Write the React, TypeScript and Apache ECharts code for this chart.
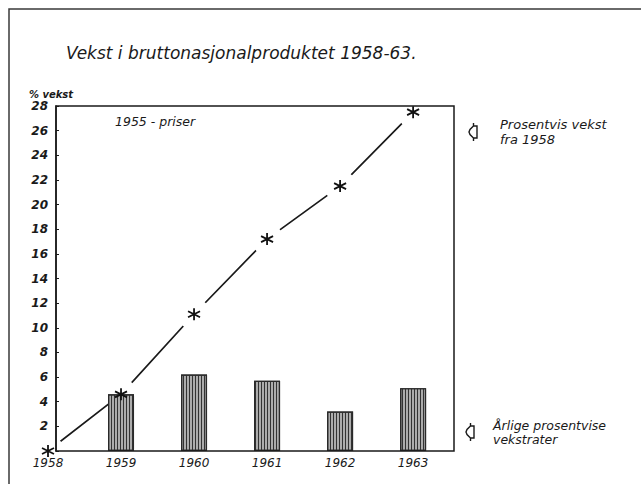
import React, { useEffect, useRef } from "react";
import * as echarts from "echarts";

// ---- data ----
const lineYears = [1958, 1959, 1960, 1961, 1962, 1963];
const cumulativeGrowth = [0, 4.6, 11.1, 17.2, 21.5, 27.5]; // % growth from 1958
const barYears = [1959, 1960, 1961, 1962, 1963];
const annualGrowth = [4.6, 6.2, 5.7, 3.2, 5.1]; // annual growth rates, %
const yMin = 0;
const yMax = 28;
const yStep = 2;

const titleText = "Vekst i bruttonasjonalproduktet 1958-63.";
const lineName = "Prosentvis vekst\nfra 1958";
const barName = "Årlige prosentvise\nvekstrater";
const priceNote = "1955 - priser";
const yName = "% vekst";

const FONT = "DejaVu Sans";
const INK = "#1a1a1a";

let registered = false;
function registerShapes() {
  if (registered) return;
  registered = true;
  echarts.graphic.registerShape(
    "valve",
    echarts.graphic.extendPath(
      "M4.5,0 L4.5,3 L1,6.5 L0,9 L1,11.5 L4.5,15 L4.5,18 L4.5,15 L8,15 L8,3 L4.5,3 Z",
      {}
    )
  );
}

const asterisk = "path://M5,0L5,10M0.67,2.5L9.33,7.5M0.67,7.5L9.33,2.5";

export default function App() {
  const ref = useRef<HTMLDivElement>(null);
  useEffect(() => {
    if (!ref.current) return;
    registerShapes();
    const chart = echarts.init(ref.current, null, { renderer: "svg" });
    const linePts = lineYears.map((y, i) => [y, cumulativeGrowth[i]]);
    const barPts = barYears.map((y, i) => [y, annualGrowth[i]]);
    const top = 106;
    const height = 345;
    chart.setOption({
      animation: false,
      backgroundColor: "#ffffff",
      textStyle: { fontFamily: FONT, color: INK },
      title: {
        text: titleText,
        left: 61,
        top: 39,
        textStyle: {
          fontFamily: FONT,
          fontStyle: "italic",
          fontWeight: "normal",
          fontSize: 17,
          color: INK,
        },
      },
      grid: [
        {
          left: 56,
          top,
          width: 398,
          height,
          show: true,
          borderColor: INK,
          borderWidth: 1.5,
          backgroundColor: "transparent",
          z: 10,
        },
        { left: 48, top, width: 406, height, show: false },
      ],
      xAxis: [
        { gridIndex: 0, type: "value", min: 0, max: 1, show: false },
        {
          gridIndex: 1,
          type: "value",
          min: 1958,
          max: 1963.56,
          interval: 1,
          z: 10,
          axisLine: { show: false },
          axisTick: { show: false },
          splitLine: { show: false },
          axisLabel: {
            showMaxLabel: false,
            margin: 6,
            fontFamily: FONT,
            fontStyle: "italic",
            fontSize: 12,
            color: INK,
            formatter: (v: number) => (Number.isInteger(v) ? String(v) : ""),
          },
        },
      ],
      yAxis: [
        {
          gridIndex: 0,
          type: "value",
          min: yMin,
          max: yMax,
          interval: yStep,
          z: 10,
          name: yName,
          nameLocation: "end",
          nameGap: 7,
          nameTextStyle: {
            fontFamily: FONT,
            fontStyle: "italic",
            fontWeight: "bold",
            fontSize: 10,
            color: INK,
            padding: [0, 10, 0, 0],
          },
          axisLine: { show: true, lineStyle: { color: INK, width: 1.5 } },
          axisTick: { show: true, inside: true, length: 3, lineStyle: { color: INK } },
          splitLine: { show: false },
          axisLabel: {
            margin: 8,
            fontFamily: FONT,
            fontStyle: "italic",
            fontWeight: "bold",
            fontSize: 12,
            color: INK,
            formatter: (v: number) => (v === 0 ? "" : String(v)),
          },
        },
        { gridIndex: 1, type: "value", min: yMin, max: yMax, show: false },
      ],
      series: [
        {
          name: lineName,
          type: "line",
          xAxisIndex: 1,
          yAxisIndex: 1,
          data: linePts,
          symbol: "none",
          lineStyle: { color: INK, width: 1.7 },
          z: 2,
          silent: true,
        },
        {
          name: "gaps",
          type: "scatter",
          xAxisIndex: 1,
          yAxisIndex: 1,
          data: linePts,
          symbol: "circle",
          symbolSize: 32,
          itemStyle: { color: "#ffffff", opacity: 1 },
          z: 3,
          silent: true,
        },
        {
          name: barName,
          type: "bar",
          xAxisIndex: 1,
          yAxisIndex: 1,
          data: barPts,
          barWidth: 26,
          z: 4,
          itemStyle: {
            color: "#acacac",
            borderColor: "#2a2a2a",
            borderWidth: 1.2,
            decal: {
              symbol: "rect",
              symbolSize: 1,
              color: "#333333",
              dashArrayX: [1, 1.2],
              dashArrayY: [4, 0],
              rotation: 0,
            },
          },
        },
        {
          name: "stars",
          type: "scatter",
          xAxisIndex: 1,
          yAxisIndex: 1,
          data: linePts,
          symbol: asterisk,
          symbolSize: 12,
          itemStyle: { color: "transparent", borderColor: "#111111", borderWidth: 1.8, opacity: 1 },
          z: 5,
          silent: true,
        },
      ],
      graphic: [
        {
          type: "polyline",
          shape: { points: [[9, 484], [9, 9], [641, 9]] },
          style: { stroke: "#3a3a3a", lineWidth: 1.5, fill: null },
          silent: true,
        },
        {
          type: "valve",
          x: 469,
          y: 123,
          style: { fill: "#ffffff", stroke: INK, lineWidth: 1.4 },
          silent: true,
        },
        {
          type: "text",
          x: 500,
          y: 117,
          style: {
            text: lineName,
            fontFamily: FONT,
            fontStyle: "italic",
            fontSize: 13,
            lineHeight: 15,
            fill: INK,
          },
          silent: true,
        },
        {
          type: "valve",
          x: 466,
          y: 423,
          style: { fill: "#ffffff", stroke: INK, lineWidth: 1.4 },
          silent: true,
        },
        {
          type: "text",
          x: 493,
          y: 418,
          style: {
            text: barName,
            fontFamily: FONT,
            fontStyle: "italic",
            fontSize: 12.5,
            lineHeight: 14,
            fill: INK,
          },
          silent: true,
        },
        {
          type: "text",
          x: 115,
          y: 115,
          style: {
            text: priceNote,
            fontFamily: FONT,
            fontStyle: "italic",
            fontSize: 12.5,
            fill: INK,
          },
          silent: true,
        },
      ],
    });
    return () => chart.dispose();
  }, []);
  return (
    <div
      ref={ref}
      style={{ position: "fixed", left: 0, top: 0, width: 641, height: 497, background: "#fff" }}
    />
  );
}
